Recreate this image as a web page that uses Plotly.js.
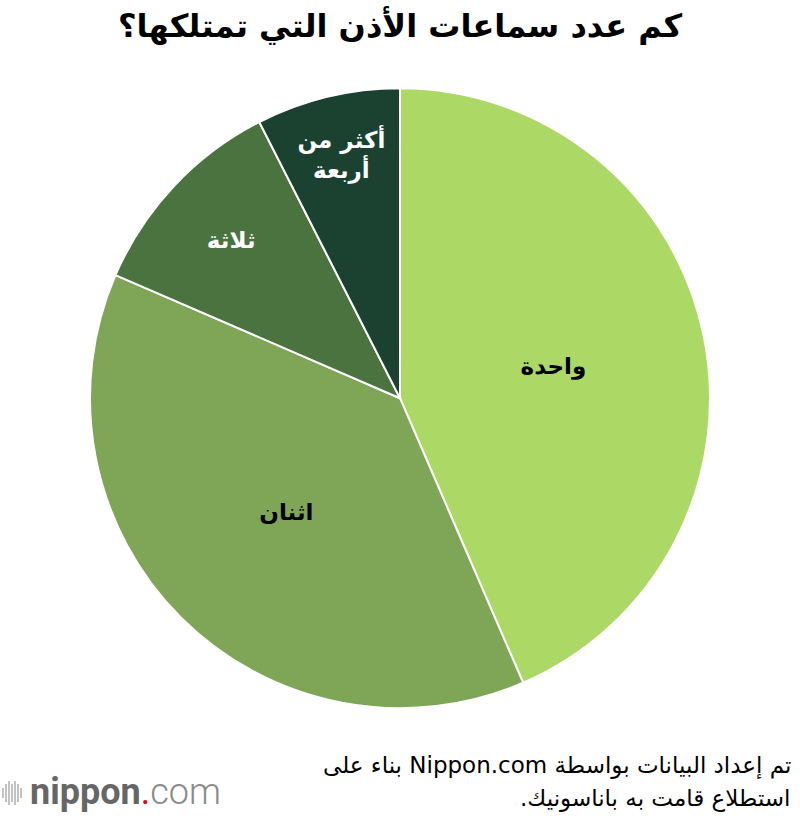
<!DOCTYPE html>
<html><head><meta charset="utf-8">
<script src="https://cdn.plot.ly/plotly-3.0.1.min.js"></script>
<style>html,body{margin:0;padding:0;background:#fff}</style>
</head><body>
<div id="chart" style="width:800px;height:816px"></div>
<script>
const labels = ["واحدة", "اثنان", "ثلاثة", "أكثر من<br>أربعة"];
const values = [43.5, 38, 11, 7.5];
const colors = ["#acd866", "#7fa656", "#4a7340", "#1b4230"];
const textColors = ["#000000", "#000000", "#ffffff", "#ffffff"];
const titleText = "كم عدد سماعات الأذن التي تمتلكها؟";
const sourceLines = ["تم إعداد البيانات بواسطة Nippon.com بناء على", "استطلاع قامت به باناسونيك."];

const font = "DejaVu Sans, sans-serif";
const RLE = "\u202B", PDF = "\u202C";
const data = [{
  type: "pie",
  labels: labels,
  values: values,
  sort: false,
  direction: "clockwise",
  rotation: 0,
  marker: {colors: colors, line: {color: "#ffffff", width: 2}},
  textinfo: "label",
  textposition: "inside",
  insidetextorientation: "horizontal",
  insidetextfont: {family: font, size: 23, color: textColors, weight: "bold"},
  hoverinfo: "label+percent",
  domain: {x: [0.1125, 0.8875], y: [0.132, 0.892]},
  showlegend: false
}];

const bars = [10, 18, 24, 18, 24, 18, 10];
const shapes = bars.map((h, i) => ({
  type: "line", xref: "paper", yref: "paper",
  x0: (3 + i * 3) / 800, x1: (3 + i * 3) / 800,
  y0: 1 - (793 + h / 2) / 816, y1: 1 - (793 - h / 2) / 816,
  line: {color: "#999999", width: 1.2}
}));

const layout = {
  width: 800, height: 816,
  margin: {l: 0, r: 0, t: 0, b: 0},
  paper_bgcolor: "#ffffff",
  title: {text: "<b>" + titleText + "</b>", x: 0.5, xanchor: "center", y: 1 - 26 / 816, yanchor: "middle",
          font: {family: font, size: 32, color: "#000000"}},
  shapes: shapes,
  annotations: [
    {text: RLE + sourceLines[0] + PDF, xref: "paper", yref: "paper", x: 793 / 800, y: 1 - 765 / 816, xanchor: "right", yanchor: "middle",
     showarrow: false, font: {family: font, size: 23, color: "#000000"}},
    {text: RLE + sourceLines[1] + PDF, xref: "paper", yref: "paper", x: 793 / 800, y: 1 - 798 / 816, xanchor: "right", yanchor: "middle",
     showarrow: false, font: {family: font, size: 23, color: "#000000"}},
    {text: "<b>nippon</b><span style='color:#e60012'>.</span><span style='font-weight:300;color:#8a8a8a'>com</span>", xref: "paper", yref: "paper", x: 28 / 800, y: 1 - 792 / 816,
     xanchor: "left", yanchor: "middle", showarrow: false, font: {family: "Roboto, sans-serif", size: 36, color: "#666666"}}
  ]
};
Plotly.newPlot("chart", data, layout, {displayModeBar: false});
</script>
</body></html>
